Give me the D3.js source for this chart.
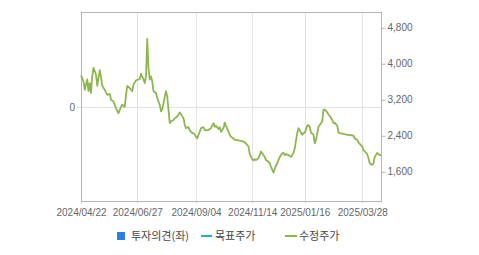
<!DOCTYPE html>
<html>
<head>
<meta charset="utf-8">
<script src="https://cdn.jsdelivr.net/npm/d3@7"></script>
<style>
  body { margin: 0; background: #fff; }
  svg text { font-family: "Liberation Sans", Arial, sans-serif; }
</style>
</head>
<body>
<svg id="chart"></svg>
<script>
// trading day index (0 = 2024/04/22) and adjusted price
const days = [0, 2, 3, 5, 6, 7, 8, 9, 10, 12, 13, 15, 16, 17, 19, 21, 23, 24, 26, 28,
  30, 32, 33, 35, 36, 37, 39, 41, 42, 44, 46, 47, 48, 50, 51, 52, 53, 54, 55, 56,
  57, 58, 60, 61, 63, 64, 65, 67, 68, 69, 70, 71, 72, 74, 75, 77, 78, 79, 81, 82,
  83, 84, 86, 87, 89, 90, 91, 93, 94, 95, 96, 98, 99, 100, 102, 103, 104, 106, 107, 108,
  110, 111, 112, 114, 115, 116, 118, 119, 120, 122, 123, 124, 127, 130, 132, 134, 135, 137, 138, 139,
  140, 142, 143, 144, 146, 147, 148, 150, 151, 152, 154, 155, 157, 158, 159, 161, 162, 163, 164, 166,
  167, 168, 170, 171, 173, 174, 175, 177, 178, 179, 181, 182, 183, 184, 186, 187, 188, 190, 191, 193,
  194, 195, 197, 198, 199, 201, 202, 203, 205, 206, 207, 210, 213, 215, 218, 219, 221, 222, 223, 225,
  226, 227, 229, 230, 231, 233, 234, 235, 237, 238, 239, 240];
const prices = [3740, 3610, 3420, 3650, 3390, 3570, 3350, 3720, 3910, 3760, 3510, 3860, 3710, 3510, 3420, 3310, 3330, 3200, 3160, 3010,
  2900, 3040, 3090, 3040, 3310, 3510, 3460, 3390, 3540, 3630, 3650, 3660, 3780, 3650, 3570, 3720, 4550, 3900, 3650, 3720,
  3610, 3390, 3350, 3240, 3090, 2940, 2980, 3270, 3390, 3270, 2980, 2680, 2720, 2750, 2790, 2830, 2870, 2920, 2830, 2790,
  2640, 2570, 2590, 2520, 2460, 2460, 2420, 2340, 2420, 2490, 2570, 2590, 2530, 2520, 2530, 2550, 2570, 2680, 2600, 2620,
  2550, 2590, 2490, 2570, 2690, 2620, 2490, 2420, 2380, 2340, 2310, 2310, 2290, 2270, 2230, 2160, 1990, 1880, 1850, 1880,
  1860, 1900, 1970, 2050, 1970, 1930, 1860, 1820, 1790, 1710, 1580, 1670, 1790, 1860, 1930, 2010, 2020, 1970, 1990, 1970,
  1950, 1930, 2020, 2120, 2460, 2570, 2520, 2420, 2460, 2470, 2620, 2640, 2600, 2470, 2420, 2230, 2310, 2600, 2640, 2720,
  2980, 2980, 2920, 2870, 2840, 2750, 2680, 2690, 2620, 2470, 2460, 2440, 2420, 2420, 2400, 2340, 2310, 2250, 2220, 2160,
  2080, 2050, 1990, 1900, 1790, 1750, 1790, 1930, 2020, 1990, 1970, 1970];

const tickDays = [0, 45, 92, 137, 179, 225];
const tickLabels = ["2024/04/22", "2024/06/27", "2024/09/04", "2024/11/14", "2025/01/16", "2025/03/28"];
const priceTicks = [1600, 2400, 3200, 4000, 4800];
const opinionTicks = [0];
const legendLabels = ["투자의견(좌)", "목표주가", "수정주가"];

const width = 479, height = 255;
const margin = { top: 12, right: 98, bottom: 54, left: 81 };

const svg = d3.select("#chart")
  .attr("width", width)
  .attr("height", height);

const x = d3.scaleLinear()
  .domain([0, 240])
  .range([margin.left, width - margin.right]);

const yRight = d3.scaleLinear()
  .domain([950, 5150])
  .range([height - margin.bottom, margin.top]);

const yLeft = d3.scaleLinear()
  .domain([-1, 1])
  .range([height - margin.bottom, margin.top]);

const plotW = width - margin.right - margin.left;
const plotH = height - margin.bottom - margin.top;

// vertical grid at date ticks
svg.append("g")
  .selectAll("line")
  .data(tickDays)
  .join("line")
  .attr("x1", d => Math.round(x(d)) + 0.5)
  .attr("x2", d => Math.round(x(d)) + 0.5)
  .attr("y1", margin.top)
  .attr("y2", height - margin.bottom + 3)
  .attr("stroke", "#e3e3e3");

// horizontal grid at 0 of left axis
svg.append("g")
  .selectAll("line")
  .data(opinionTicks)
  .join("line")
  .attr("x1", margin.left - 4)
  .attr("x2", width - margin.right)
  .attr("y1", d => Math.round(yLeft(d)) + 0.5)
  .attr("y2", d => Math.round(yLeft(d)) + 0.5)
  .attr("stroke", "#e3e3e3");

// plot frame
svg.append("rect")
  .attr("x", margin.left + 0.5)
  .attr("y", margin.top + 0.5)
  .attr("width", plotW)
  .attr("height", plotH)
  .attr("fill", "none")
  .attr("stroke", "#b4b4b4");

// right axis
const rightAxis = svg.append("g")
  .attr("transform", `translate(${width - margin.right + 0.5},0)`)
  .call(d3.axisRight(yRight).tickValues(priceTicks).tickSize(4).tickPadding(2).tickFormat(d3.format(",")));
rightAxis.select(".domain").remove();
rightAxis.selectAll("line").attr("stroke", "#b4b4b4");
rightAxis.selectAll("text").attr("fill", "#666").style("font-size", "10px");

// left axis
const leftAxis = svg.append("g")
  .attr("transform", `translate(${margin.left},0.5)`)
  .call(d3.axisLeft(yLeft).tickValues(opinionTicks).tickSize(0).tickPadding(6).tickFormat(d3.format("d")));
leftAxis.select(".domain").remove();
leftAxis.selectAll("text").attr("fill", "#666").style("font-size", "10px");

// bottom axis labels
const bottomAxis = svg.append("g")
  .attr("transform", `translate(0,${height - margin.bottom})`)
  .call(d3.axisBottom(x).tickValues(tickDays).tickSize(0).tickPadding(8)
    .tickFormat((d, i) => tickLabels[i]));
bottomAxis.select(".domain").remove();
bottomAxis.selectAll("text").attr("fill", "#666").style("font-size", "10px");

// price line
const line = d3.line()
  .x((d, i) => x(days[i]))
  .y(d => yRight(d));

svg.append("path")
  .datum(prices)
  .attr("d", line)
  .attr("fill", "none")
  .attr("stroke", "#8db74e")
  .attr("stroke-width", 1.8)
  .attr("stroke-linejoin", "round");

// legend
const legend = svg.append("g").attr("transform", "translate(0,236)");
legend.append("rect")
  .attr("x", 117).attr("y", -4)
  .attr("width", 8).attr("height", 8)
  .attr("fill", "#2c7ee4");
legend.append("line")
  .attr("x1", 201).attr("x2", 212).attr("y1", 0).attr("y2", 0)
  .attr("stroke", "#25abc4").attr("stroke-width", 2);
legend.append("line")
  .attr("x1", 285).attr("x2", 297).attr("y1", 0).attr("y2", 0)
  .attr("stroke", "#8db74e").attr("stroke-width", 2);

const legendX = [131, 215, 299];
legend.selectAll("text")
  .data(legendLabels)
  .join("text")
  .attr("x", (d, i) => legendX[i])
  .attr("y", 0)
  .attr("dy", "0.36em")
  .attr("fill", "#444")
  .style("font-family", "'Noto Sans CJK KR', 'Noto Sans', sans-serif")
  .style("font-size", "11px")
  .text(d => d);
</script>
</body>
</html>
